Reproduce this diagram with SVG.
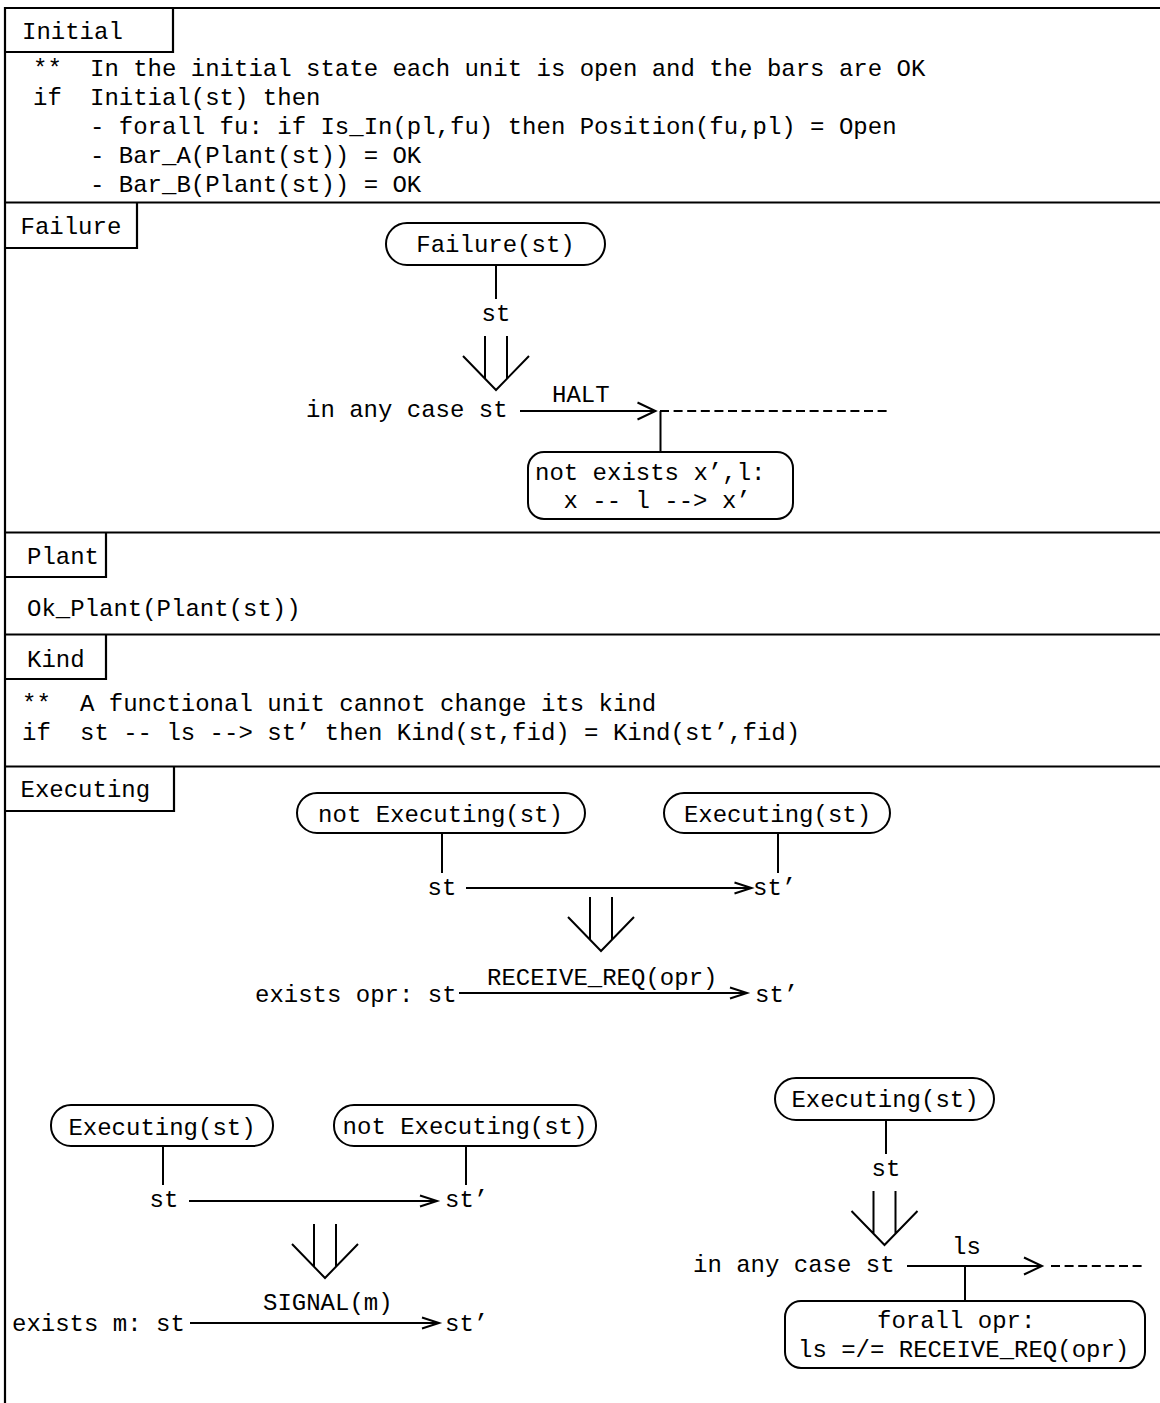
<svg xmlns="http://www.w3.org/2000/svg" width="1160" height="1403" viewBox="0 0 1160 1403">
<style>
text{font-family:"Liberation Mono","DejaVu Sans Mono",monospace;font-size:24px;fill:#000}
.m{text-anchor:middle}
.fr{fill:none;stroke:#000;stroke-width:2.2}
.bx{fill:#fff;stroke:#000;stroke-width:2}
.ln{fill:none;stroke:#000;stroke-width:2}
.ds{fill:none;stroke:#000;stroke-width:2;stroke-dasharray:9 4.6}
</style>
<defs>
<marker id="ah" markerUnits="userSpaceOnUse" markerWidth="22" markerHeight="16" viewBox="-20 -8 22 16" refX="0" refY="0" orient="auto" overflow="visible"><path d="M-17,-5.5 L0,0 L-17,5.5" fill="none" stroke="#000" stroke-width="2"/></marker>
<marker id="ahb" markerUnits="userSpaceOnUse" markerWidth="22" markerHeight="20" viewBox="-20 -10 22 20" refX="0" refY="0" orient="auto" overflow="visible"><path d="M-18,-8.5 L0,0 L-18,8.5" fill="none" stroke="#000" stroke-width="2"/></marker>
<path id="impl" d="M-11,0 V42.7 M11,0 V42.7 M-33,20 L0,54 L33,20" fill="none" stroke="#000" stroke-width="2"/>
</defs>
<rect width="1160" height="1403" fill="#fff"/>

<g id="frame">
<path class="fr" d="M5,1403 V8 H1160 M5,202.5 H1160 M5,532.5 H1160 M5,634.5 H1160 M5,766.5 H1160"/>
<path class="fr" d="M5,52 H173 V8 M5,248 H137 V202.5 M5,577 H106 V532.5 M5,679 H106 V634.5 M5,811 H174 V766.5"/>
</g>

<g id="initial">
<text x="22" y="39">Initial</text>
<text x="33" y="76">**</text><text x="90" y="76">In the initial state each unit is open and the bars are OK</text>
<text x="33" y="105">if</text><text x="90" y="105">Initial(st) then</text>
<text x="90" y="134">- forall fu: if Is_In(pl,fu) then Position(fu,pl) = Open</text>
<text x="90" y="163">- Bar_A(Plant(st)) = OK</text>
<text x="90" y="192">- Bar_B(Plant(st)) = OK</text>
</g>

<g id="failure">
<text x="20.5" y="234">Failure</text>
<g id="failure-cond"><rect class="bx" x="386" y="223" width="219" height="42" rx="21"/><text class="m" x="495.5" y="252">Failure(st)</text></g>
<text class="m" x="496" y="321">st</text>
<text x="306" y="417">in any case st</text>
<text x="552" y="402">HALT</text>
<g id="failure-note"><rect class="bx" x="528" y="452" width="265" height="67" rx="16"/><text x="535" y="480">not exists x’,l:</text><text x="563.5" y="508">x -- l --&gt; x’</text></g>
</g>

<g id="plant">
<text x="27" y="564">Plant</text>
<text x="27" y="616">Ok_Plant(Plant(st))</text>
</g>

<g id="kind">
<text x="27" y="667">Kind</text>
<text x="22" y="711">**</text><text x="80" y="711">A functional unit cannot change its kind</text>
<text x="22" y="740">if</text><text x="80" y="740">st -- ls --&gt; st’ then Kind(st,fid) = Kind(st’,fid)</text>
</g>

<g id="executing">
<text x="20.5" y="797">Executing</text>
<g id="ex1-pre"><rect class="bx" x="297" y="793" width="288" height="40" rx="20"/><text class="m" x="440.5" y="822">not Executing(st)</text></g>
<g id="ex1-post"><rect class="bx" x="664" y="793" width="226" height="40" rx="20"/><text class="m" x="777.5" y="822">Executing(st)</text></g>
<text x="427.5" y="895">st</text>
<text x="753" y="895">st’</text>
<text x="487" y="985">RECEIVE_REQ(opr)</text>
<text x="255" y="1002">exists opr: st</text>
<text x="755" y="1002">st’</text>

<g id="ex2-pre"><rect class="bx" x="51" y="1105" width="222" height="41" rx="20"/><text class="m" x="162" y="1135">Executing(st)</text></g>
<g id="ex2-post"><rect class="bx" x="334" y="1105" width="262" height="41" rx="20"/><text class="m" x="465" y="1134">not Executing(st)</text></g>
<text x="149.5" y="1207">st</text>
<text x="445" y="1207">st’</text>
<text x="263" y="1310">SIGNAL(m)</text>
<text x="12" y="1331">exists m: st</text>
<text x="445" y="1331">st’</text>

<g id="ex3-cond"><rect class="bx" x="775" y="1078" width="219" height="42" rx="21"/><text class="m" x="885" y="1107">Executing(st)</text></g>
<text class="m" x="886" y="1176">st</text>
<text x="693" y="1272">in any case st</text>
<text x="952" y="1254">ls</text>
<g id="ex3-note"><rect class="bx" x="785" y="1301" width="360" height="67" rx="16"/><text x="877" y="1328">forall opr:</text><text x="798" y="1357">ls =/= RECEIVE_REQ(opr)</text></g>
</g>

<g id="connectors">
<path class="ln" d="M496,265 V299"/>
<use href="#impl" x="496" y="336"/>
<path class="ln" d="M520,411 H655.5" marker-end="url(#ahb)"/>
<path class="ds" d="M660,411 H889"/>
<path class="ln" d="M660.5,411 V452"/>

<path class="ln" d="M442,833 V873 M778,833 V873"/>
<path class="ln" d="M466,888 H751.5" marker-end="url(#ah)"/>
<use href="#impl" x="601" y="897"/>
<path class="ln" d="M459,993 H747" marker-end="url(#ah)"/>

<path class="ln" d="M163,1146 V1185 M466,1146 V1185"/>
<path class="ln" d="M189,1201 H437" marker-end="url(#ah)"/>
<use href="#impl" x="325" y="1224"/>
<path class="ln" d="M190,1323 H439" marker-end="url(#ah)"/>

<path class="ln" d="M886,1120 V1154"/>
<use href="#impl" x="884.5" y="1191"/>
<path class="ln" d="M907,1266 H1042" marker-end="url(#ahb)"/>
<path class="ds" d="M1051,1266 H1145"/>
<path class="ln" d="M965,1266 V1301"/>
</g>
</svg>
